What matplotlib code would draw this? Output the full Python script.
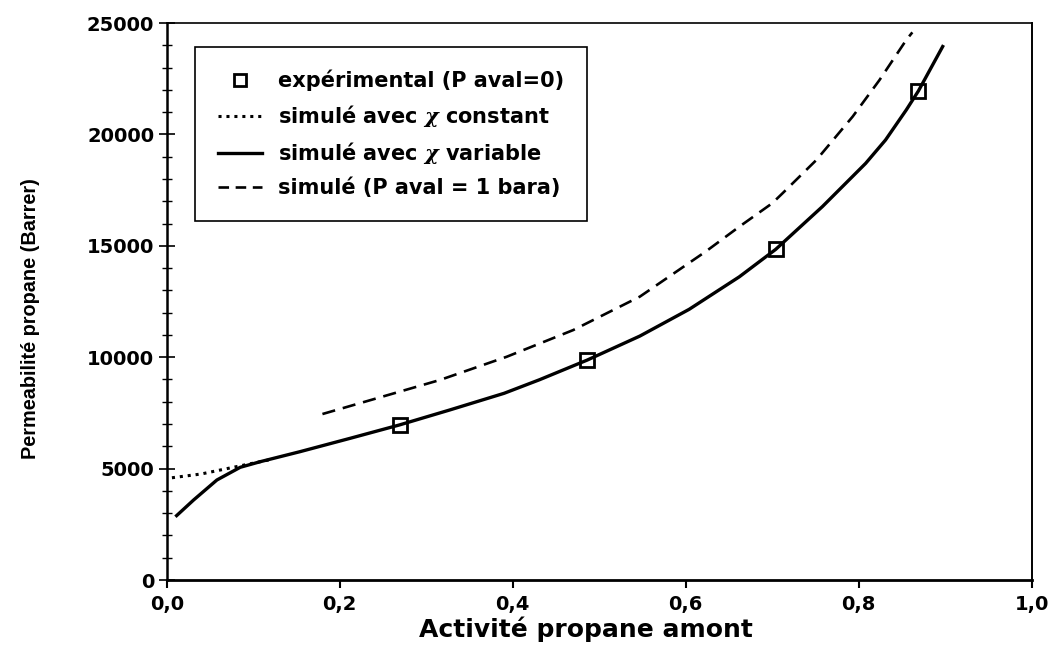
import matplotlib.pyplot as plt
from matplotlib.lines import Line2D
from matplotlib.ticker import MultipleLocator, FuncFormatter

# points expérimentaux (P aval = 0)
exp_x = [0.270, 0.486, 0.704, 0.869]
exp_y = [6950, 9870, 14840, 21950]

# simulé avec chi variable (trait plein)
var_x = [0.010, 0.031, 0.058, 0.085, 0.108, 0.154, 0.212, 0.269, 0.327, 0.390, 0.431,
         0.486, 0.547, 0.604, 0.662, 0.704, 0.758, 0.808, 0.831, 0.855, 0.869, 0.898]
var_y = [2840, 3590, 4490, 5060, 5310, 5760, 6360, 6960, 7630, 8380, 8990,
         9870, 10950, 12150, 13610, 14840, 16760, 18700, 19750, 21100, 21950, 24010]

# simulé avec chi constant (pointillé)
cst_x = [0.006, 0.040, 0.077, 0.108, 0.123]
cst_y = [4590, 4760, 5060, 5310, 5430]

# simulé P aval = 1 bara (tirets)
bara_x = [0.180, 0.316, 0.393, 0.470, 0.547, 0.623, 0.662, 0.700, 0.712, 0.751, 0.793, 0.824, 0.855, 0.862]
bara_y = [7450, 8980, 10020, 11220, 12720, 14740, 15860, 16910, 17360, 18850, 20800, 22440, 24240, 24580]

labels = ["expérimental (P aval=0)",
          r"simulé avec $\chi$ constant",
          r"simulé avec $\chi$ variable",
          "simulé (P aval = 1 bara)"]

plt.rcParams["font.family"] = ["DejaVu Sans"]
plt.rcParams["font.weight"] = "bold"
plt.rcParams["mathtext.fontset"] = "dejavuserif"

fig = plt.figure(figsize=(10.56, 6.48), dpi=100)
ax = fig.add_axes([0.1579, 0.1049, 0.8191, 0.8596])

ax.plot(cst_x, cst_y, color="black", lw=2.2, linestyle=(0, (1, 1.6)))
ax.plot(var_x, var_y, color="black", lw=2.4, solid_capstyle="butt")
ax.plot(bara_x, bara_y, color="black", lw=1.9, linestyle=(0, (5, 3)))
ax.plot(exp_x, exp_y, linestyle="none", marker="s", markersize=10,
        markerfacecolor="none", markeredgecolor="black", markeredgewidth=2.0)

ax.set_xlim(0, 1.0)
ax.set_ylim(0, 25000)
ax.xaxis.set_major_locator(MultipleLocator(0.2))
ax.yaxis.set_major_locator(MultipleLocator(5000))
ax.yaxis.set_minor_locator(MultipleLocator(1000))
ax.xaxis.set_major_formatter(FuncFormatter(lambda v, p: f"{v:.1f}".replace(".", ",")))
ax.yaxis.set_major_formatter(FuncFormatter(lambda v, p: f"{int(v)}"))

ax.tick_params(axis="y", which="major", direction="inout", length=12, width=1.2, labelsize=14, pad=3)
ax.tick_params(axis="y", which="minor", direction="inout", length=7, width=1.0)
ax.tick_params(axis="x", which="major", direction="out", length=6, width=1.5, labelsize=14, pad=5)
for lab in ax.get_xticklabels() + ax.get_yticklabels():
    lab.set_fontweight("bold")

ax.spines["left"].set_linewidth(1.8)
ax.spines["bottom"].set_linewidth(2.0)
ax.spines["top"].set_linewidth(1.2)
ax.spines["right"].set_linewidth(1.4)

ax.set_xlabel("Activité propane amont", fontsize=18, fontweight="bold")
ax.xaxis.set_label_coords(0.485, -0.066)
ax.set_ylabel("Permeabilité propane (Barrer)", fontsize=14.3, fontweight="bold",
              family=["Liberation Sans Narrow", "Liberation Sans"])
ax.yaxis.set_label_coords(-0.146, 0.469)

handles = [
    Line2D([], [], linestyle="none", marker="s", markersize=9, markerfacecolor="none",
           markeredgecolor="black", markeredgewidth=2.0),
    Line2D([], [], color="black", lw=2.2, linestyle=(0, (1, 1.6))),
    Line2D([], [], color="black", lw=2.4),
    Line2D([], [], color="black", lw=1.9, linestyle=(0, (4, 2.5))),
]
leg = ax.legend(handles, labels, loc="upper left", bbox_to_anchor=(0.0327, 0.957),
                borderaxespad=0, fancybox=False, framealpha=1, edgecolor="black",
                prop={"size": 15, "weight": "bold"}, handlelength=2.1,
                labelspacing=0.55, borderpad=1.1, handletextpad=0.8)
leg.get_frame().set_linewidth(1.2)

fig.savefig("out.png", dpi=100)
